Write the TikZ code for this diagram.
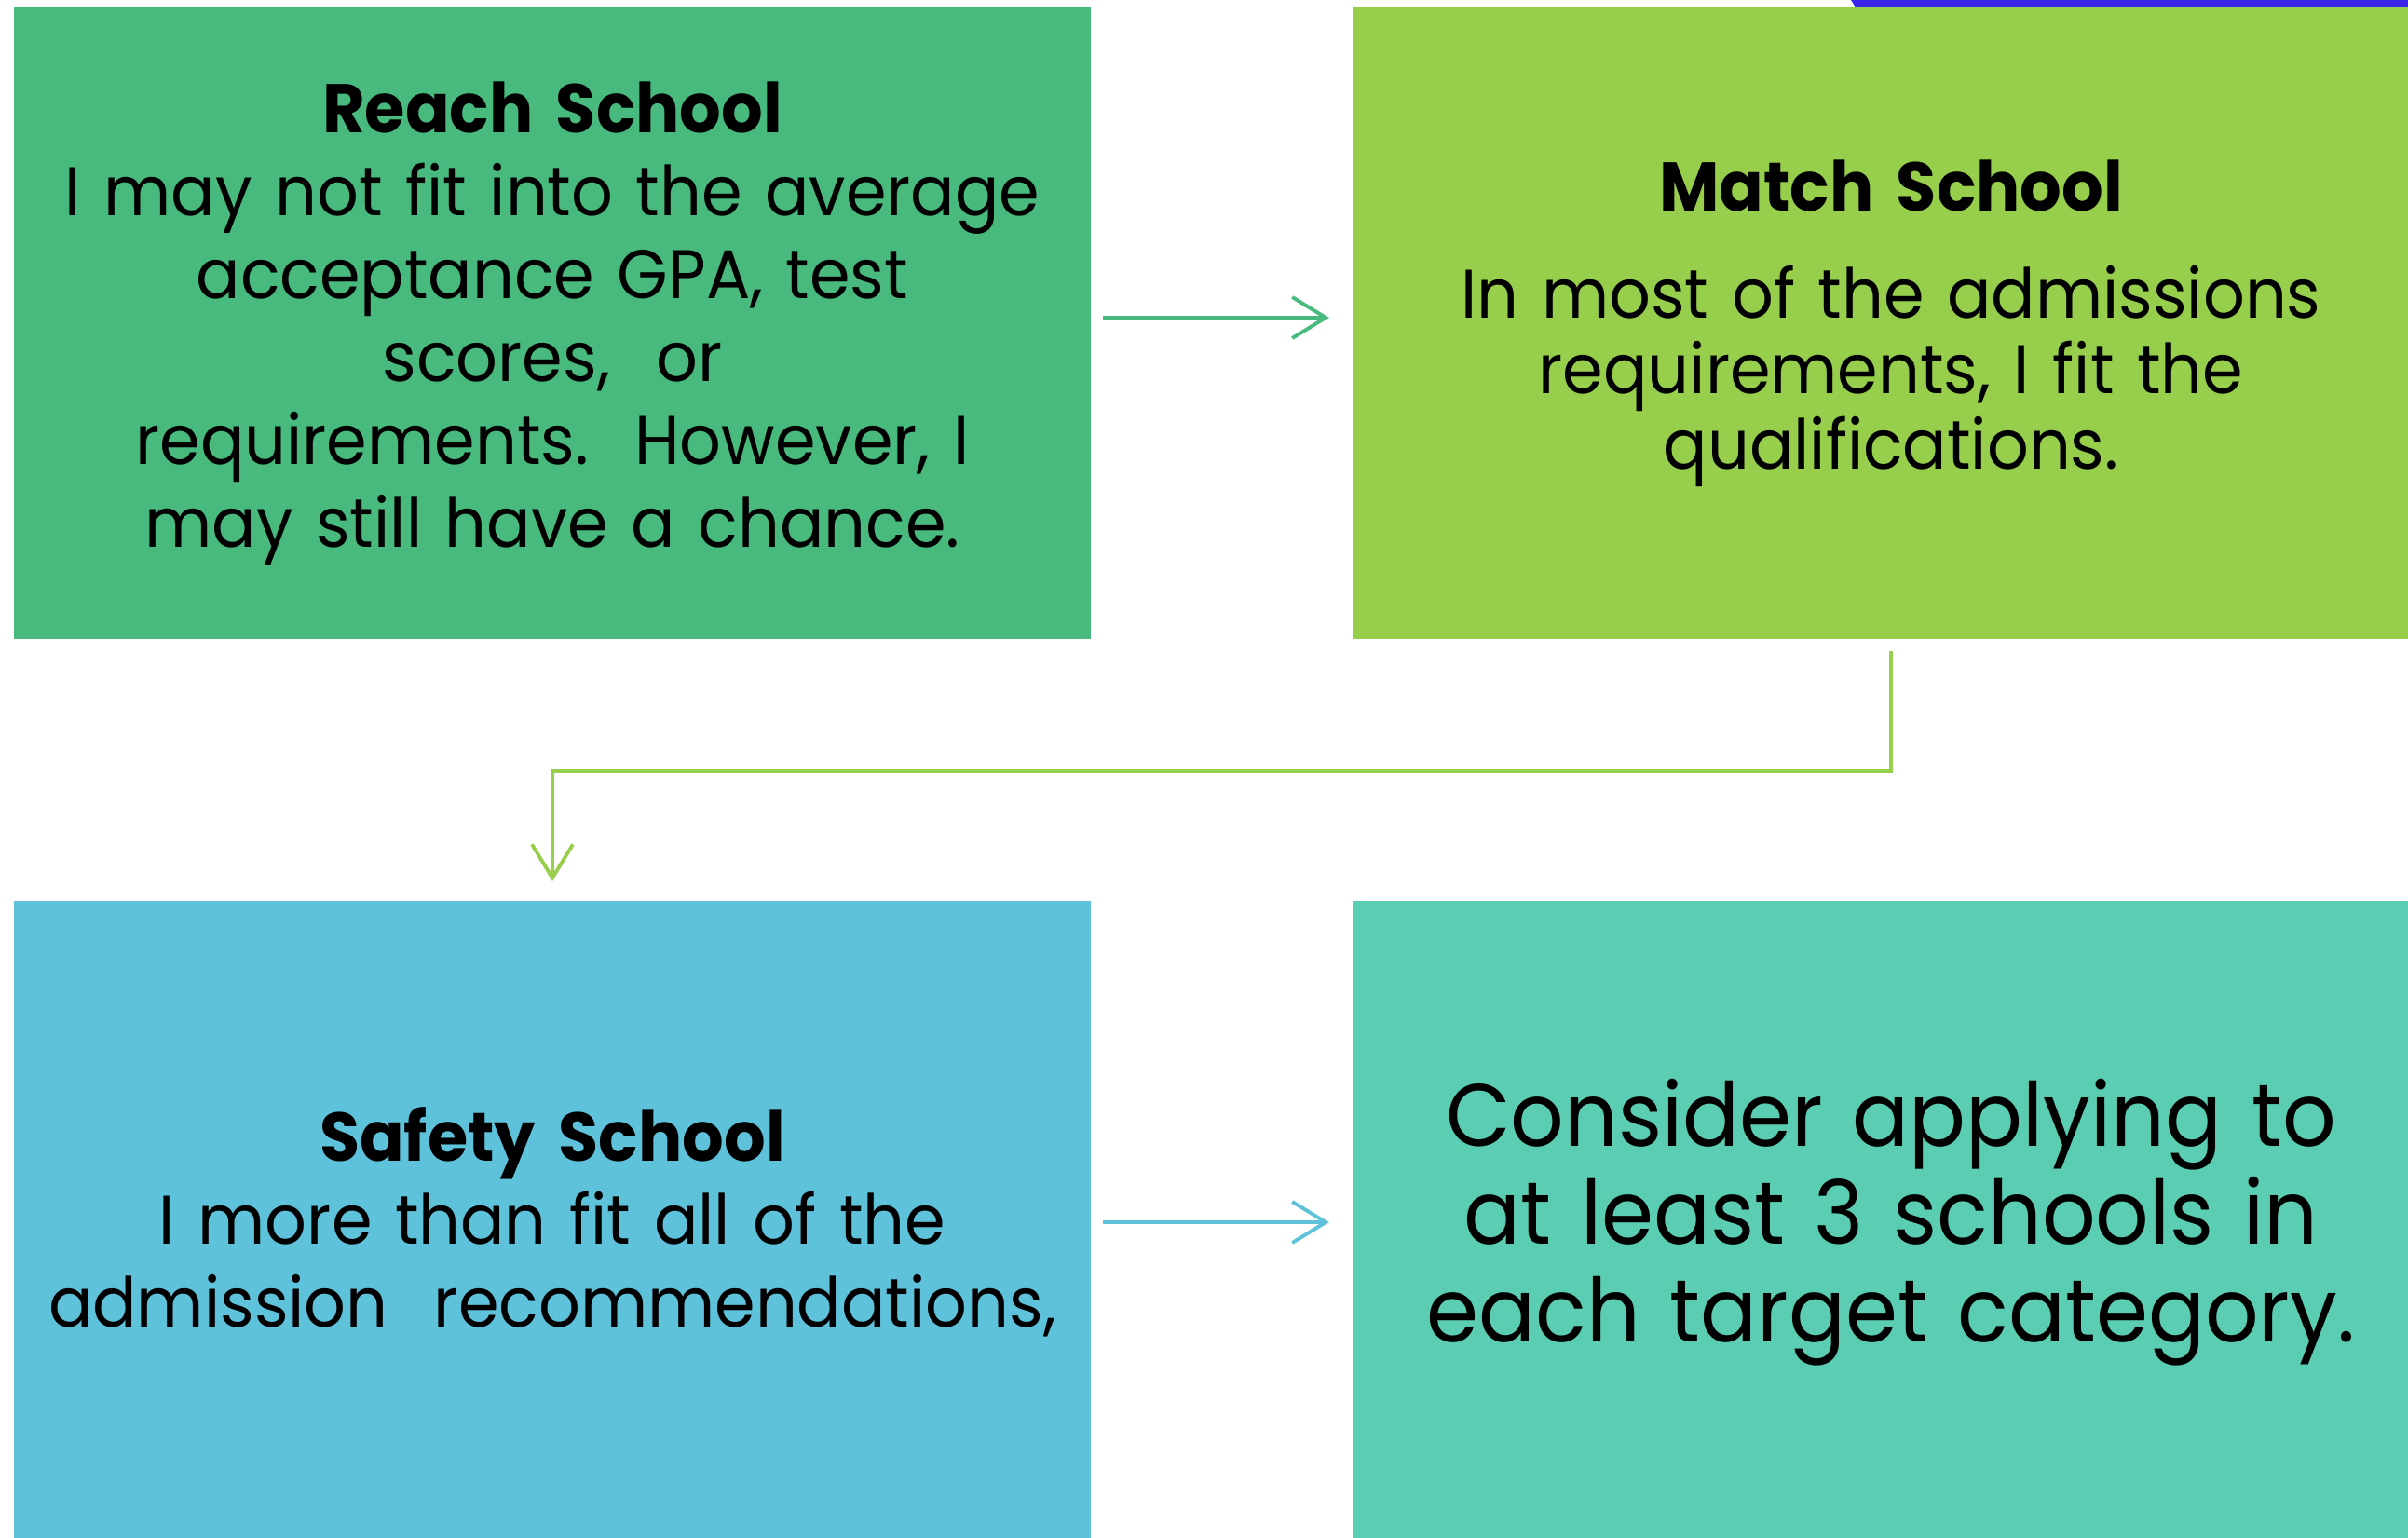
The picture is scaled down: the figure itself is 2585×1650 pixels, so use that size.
\documentclass[tikz,border=0pt]{standalone}
\usepackage{fontspec}
\setmainfont{Poppins}[FakeStretch=0.95, WordSpace=0.8]
\usepackage{tikz}
\usetikzlibrary{arrows.meta,calc}
\definecolor{reachgreen}{RGB}{72,186,126}
\definecolor{matchgreen}{RGB}{151,206,76}
\definecolor{safetyblue}{RGB}{94,194,218}
\definecolor{considerteal}{RGB}{91,205,178}
\definecolor{barblue}{RGB}{58,38,232}
\tikzstyle{schoolbox}=[inner sep=0pt, align=center, text width=11.4cm, minimum width=11.56cm, font=\fontsize{21}{25.3}\selectfont]
\tikzstyle{flow}=[line width=1.1pt, -{Straight Barb[length=0.36cm,width=0.44cm]}]

\begin{document}
\begin{tikzpicture}[x=0.01cm, y=-0.01cm]
 \clip (0,0) rectangle (2585,1650);
 \fill[barblue] (1987,0) -- (2585,0) -- (2585,8) -- (1992,8) -- cycle;
%
 \node[schoolbox, fill=reachgreen, minimum height=6.78cm] (reach) at (593,347)
  {\textbf{Reach School}\\ I may not fit into the average\\ acceptance GPA, test\\ scores,\ \ or\\ requirements.\ \ However, I\\ may still have a chance.};
 \node[schoolbox, fill=matchgreen, minimum height=6.78cm] (match) at (2030,347)
  {\textbf{Match School}\\[0.26cm] In most of the admissions\\[-0.08cm] requirements, I fit the\\[-0.08cm] qualifications.};
 \node[schoolbox, fill=safetyblue, minimum height=6.9cm] (safety) at (593,1312)
  {\textbf{Safety School}\\ I more than fit all of the\\ admission\ \ recommendations,};
 \node[schoolbox, fill=considerteal, minimum height=6.9cm, font=\fontsize{27}{29.9}\selectfont] (consider) at (2030,1312)
  {Consider applying to\\ at least 3 schools in\\ each target category.};
%
 \draw[flow, reachgreen, shorten <=0.12cm, shorten >=0.24cm] ([yshift=0.06cm]reach.east) -- ([yshift=0.06cm]match.west);
 \draw[flow, matchgreen, shorten <=0.12cm, shorten >=0.2cm] (match.south) -- ++(0,141) -| (safety.north);
 \draw[flow, safetyblue, shorten <=0.12cm, shorten >=0.24cm] (safety.east) -- (consider.west);
\end{tikzpicture}
\end{document}
